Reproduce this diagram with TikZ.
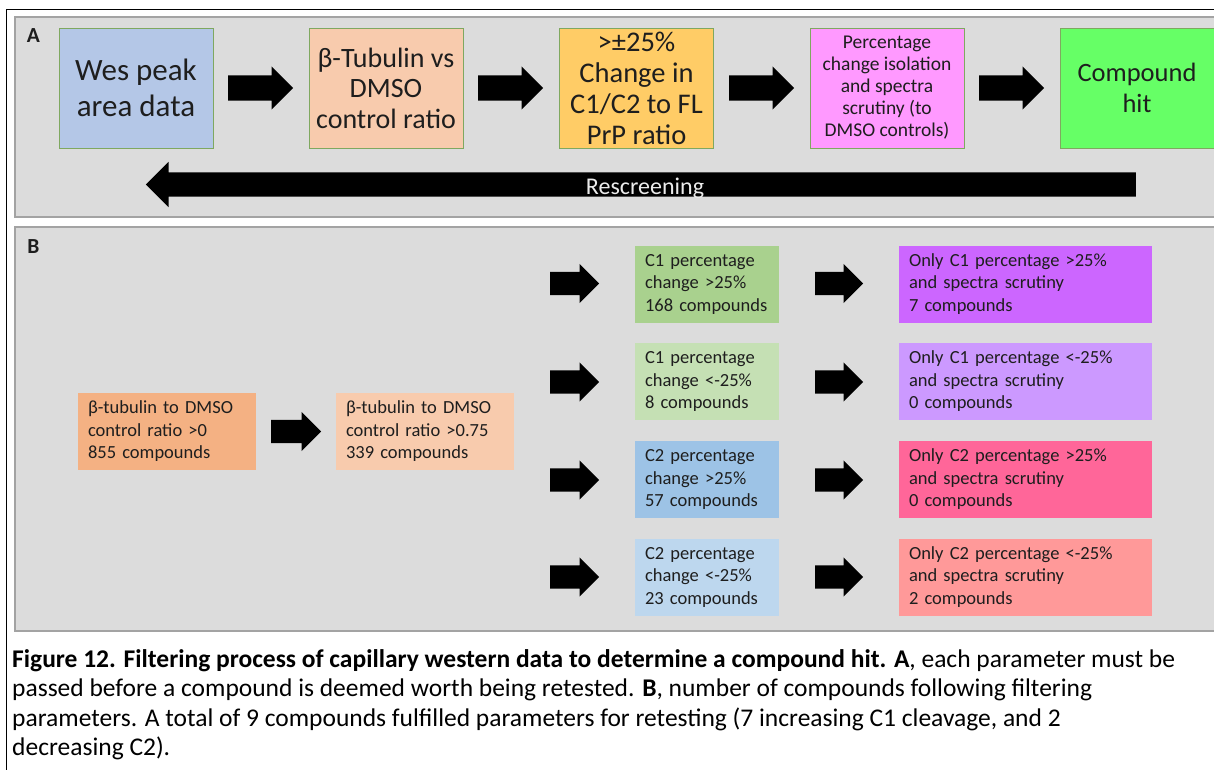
\documentclass[tikz,border=0pt]{standalone}
\usepackage{fontspec}
\setmainfont{Carlito}
\usetikzlibrary{shapes.arrows}
\definecolor{panelgray}{HTML}{DCDCDC}
\definecolor{panelborder}{HTML}{A3A3A3}
\definecolor{boxborder}{HTML}{7FA860}
\definecolor{txt}{HTML}{1E1E1E}
\definecolor{cA1}{HTML}{B4C7E7}
\definecolor{cA2}{HTML}{F8CBAD}
\definecolor{cA3}{HTML}{FFCC66}
\definecolor{cA4}{HTML}{FF99FF}
\definecolor{cA5}{HTML}{66FF66}
\definecolor{cB1}{HTML}{F4B183}
\definecolor{cB2}{HTML}{F8CBAD}
\definecolor{cC1}{HTML}{A9D18E}
\definecolor{cC2}{HTML}{C5E0B4}
\definecolor{cC3}{HTML}{9DC3E6}
\definecolor{cC4}{HTML}{BDD7EE}
\definecolor{cD1}{HTML}{CC66FF}
\definecolor{cD2}{HTML}{CC99FF}
\definecolor{cD3}{HTML}{FF6699}
\definecolor{cD4}{HTML}{FF9999}
\begin{document}
\begin{tikzpicture}[x=1pt,y=-1pt,
  panel/.style={draw=panelborder, line width=1.5pt, fill=panelgray},
  abox/.style={draw=boxborder, line width=0.8pt, minimum width=154pt, minimum height=120pt, inner sep=0pt, align=center, text=txt},
  bbox/.style={minimum height=77pt, inner xsep=10pt, inner ysep=0pt, align=left, text width=#1, font=\fontsize{18.5}{22.5}\selectfont, text=txt},
  arrA/.style={single arrow, fill=black, draw=none, anchor=tail, minimum width=43pt, minimum height=65pt, single arrow head extend=9pt, inner xsep=0pt, inner ysep=12.5pt},
  arrB/.style={single arrow, fill=black, draw=none, anchor=tail, minimum width=39pt, minimum height=49pt, single arrow head extend=8pt, inner xsep=0pt, inner ysep=11.5pt},
  plabel/.style={font=\fontsize{21.5}{24}\selectfont\bfseries, text=txt, inner sep=0pt},
  capline/.style={anchor=base west, inner sep=0pt, font=\fontsize{25.5}{29.5}\selectfont, text=black}
]
\useasboundingbox (0,0) rectangle (1214,770);
\fill[white] (0,0) rectangle (1214,770);
% outer frame
\draw[line width=1.8pt, black] (6.5,790) -- (6.5,9.5) -- (1240,9.5);
% panels
\draw[panel] (15,17) rectangle (1240,217);
\draw[panel] (15,227) rectangle (1240,631);
\node[plabel] (labA) at (33.5,36) {A};
\node[plabel] (labB) at (33.5,246.5) {B};

% Panel A boxes
\node[abox, fill=cA1, font=\fontsize{31}{36.5}\selectfont] (a1) at (136,88) {Wes peak\\area data};
\node[abox, fill=cA2, font=\fontsize{28}{30.5}\selectfont] (a2) at (386,88) {β-Tubulin vs\\DMSO\\control ratio};
\node[abox, fill=cA3, font=\fontsize{28.5}{31}\selectfont] (a3) at (636.5,88) {>±25\%\\Change in\\C1/C2 to FL\\PrP ratio};
\node[abox, fill=cA4, font=\fontsize{19.5}{22}\selectfont] (a4) at (887,88) {Percentage\\change isolation\\and spectra\\scrutiny (to\\DMSO controls)};
\node[abox, fill=cA5, font=\fontsize{26.5}{31}\selectfont] (a5) at (1137,88) {Compound\\hit};

\node[arrA] (arrA1) at (228,88) {};
\node[arrA] (arrA2) at (478,88) {};
\node[arrA] (arrA3) at (729,88) {};
\node[arrA] (arrA4) at (979,88) {};

% Rescreening arrow
\node[single arrow, shape border rotate=180, anchor=tail, fill=black, draw=none, minimum width=45pt, minimum height=990pt, single arrow head extend=10.5pt, inner xsep=0pt, inner ysep=12pt] (rescreen) at (1136,184.5) {};
\node[anchor=base, inner sep=0pt, font=\fontsize{24}{28}\selectfont, text=white!92!black] (rescreenlabel) at (645,194) {Rescreening};

% Panel B
\node[bbox=158pt, fill=cB1] (b1) at (167,431.5) {β-tubulin to DMSO\\control ratio >0\\855 compounds};
\node[bbox=158pt, fill=cB2] (b2) at (425,431.5) {β-tubulin to DMSO\\control ratio >0.75\\339 compounds};
\node[arrB, minimum height=50pt] (arrB0) at (271,431.5) {};

\node[bbox=123.5pt, fill=cC1] (c1) at (706.75,284) {C1 percentage\\change >25\%\\168 compounds};
\node[bbox=123.5pt, fill=cC2] (c2) at (706.75,381.5) {C1 percentage\\change <-25\%\\8 compounds};
\node[bbox=123.5pt, fill=cC3] (c3) at (706.75,479.5) {C2 percentage\\change >25\%\\57 compounds};
\node[bbox=123.5pt, fill=cC4] (c4) at (706.75,577) {C2 percentage\\change <-25\%\\23 compounds};

\node[bbox=233pt, fill=cD1] (d1) at (1025.5,284) {Only C1 percentage >25\%\\and spectra scrutiny\\7 compounds};
\node[bbox=233pt, fill=cD2] (d2) at (1025.5,381.5) {Only C1 percentage <-25\%\\and spectra scrutiny\\0 compounds};
\node[bbox=233pt, fill=cD3] (d3) at (1025.5,479.5) {Only C2 percentage >25\%\\and spectra scrutiny\\0 compounds};
\node[bbox=233pt, fill=cD4] (d4) at (1025.5,577) {Only C2 percentage <-25\%\\and spectra scrutiny\\2 compounds};

\node[arrB] (arrC1) at (550,283.5) {};
\node[arrB] (arrC2) at (550,382) {};
\node[arrB] (arrC3) at (550,480) {};
\node[arrB] (arrC4) at (550,577) {};
\node[arrB, minimum height=48pt] (arrD1) at (815,283.5) {};
\node[arrB, minimum height=48pt] (arrD2) at (815,382) {};
\node[arrB, minimum height=48pt] (arrD3) at (815,480) {};
\node[arrB, minimum height=48pt] (arrD4) at (815,577) {};

% Caption
\node[capline] (cap1) at (12,667) {\textbf{Figure 12. Filtering process of capillary western data to determine a compound hit. A}, each parameter must be};
\node[capline] (cap2) at (12,696.5) {passed before a compound is deemed worth being retested. \textbf{B}, number of compounds following filtering};
\node[capline] (cap3) at (12,726) {parameters. A total of 9 compounds fulfilled parameters for retesting (7 increasing C1 cleavage, and 2};
\node[capline] (cap4) at (12,755.5) {decreasing C2).};
\end{tikzpicture}
\end{document}
